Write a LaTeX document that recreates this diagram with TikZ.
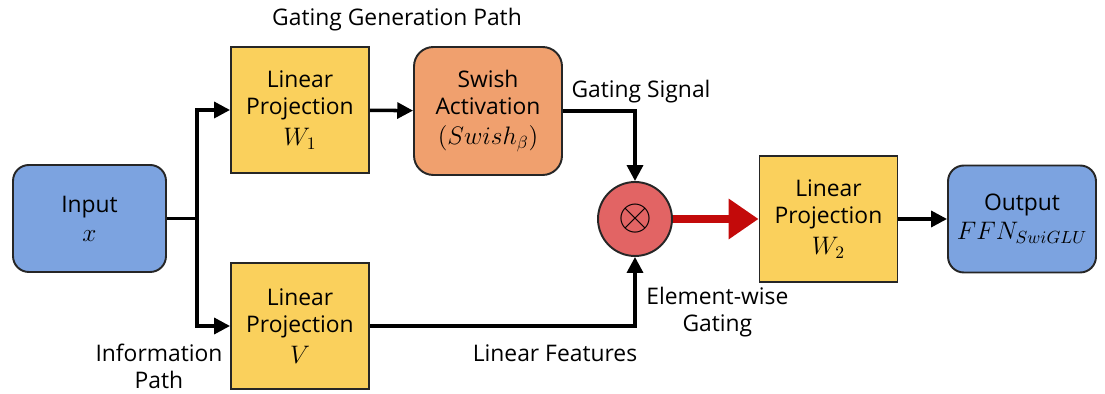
\documentclass[tikz,border=0pt]{standalone}
\usepackage{fontspec}
\setmainfont{Open Sans}
\usetikzlibrary{shapes.geometric, arrows, arrows.meta}

\definecolor{inBlue}{RGB}{124,163,224}
\definecolor{projYellow}{RGB}{250,208,92}
\definecolor{actOrange}{RGB}{240,160,110}
\definecolor{multRed}{RGB}{226,100,100}
\definecolor{gateRed}{RGB}{195,10,10}

\newcommand{\bigmath}[1]{{\fontsize{14.5}{15.4}\selectfont$#1$}}

\tikzstyle{ioBox} = [rectangle, rounded corners=9pt, minimum width=3.06cm, minimum height=2.14cm, text centered, align=center, draw=black!85, line width=1.1pt, fill=inBlue]
\tikzstyle{projBox} = [rectangle, minimum width=2.76cm, minimum height=2.52cm, text centered, align=center, draw=black!85, line width=1.1pt, fill=projYellow]
\tikzstyle{actBox} = [rectangle, rounded corners=11pt, minimum width=2.96cm, minimum height=2.56cm, text centered, align=center, draw=black!85, line width=1.1pt, fill=actOrange]
\tikzstyle{multCircle} = [circle, minimum size=1.48cm, inner sep=0pt, draw=black!85, line width=1.1pt, fill=multRed]
\tikzstyle{label} = [align=center, inner sep=0pt]
\tikzstyle{arrow} = [line width=2pt,-{Triangle[length=9pt,width=9pt]}]
\tikzstyle{redArrow} = [line width=5pt, draw=gateRed, -{Triangle[length=17pt,width=22pt]}]

\begin{document}
\begin{tikzpicture}[x=0.02cm,y=-0.02cm,font=\fontsize{13}{15.4}\selectfont]
\useasboundingbox (0,0) rectangle (1105,394);

\node (input) [ioBox] at (89.5,218.5) {Input\\[1pt]\bigmath{x}};
\node (linW1) [projBox] at (300,110) {Linear\\Projection\\[2pt]\bigmath{W_1}};
\node (swish) [actBox] at (488,111) {Swish\\Activation\\[2pt]\bigmath{(Swish_\beta)}};
\node (linV) [projBox] at (300,326) {Linear\\Projection\\[2pt]\bigmath{V}};
\node (mult) [multCircle] at (635,219) {\fontsize{30}{30}\selectfont$\otimes$};
\node (linW2) [projBox] at (828.5,219) {Linear\\Projection\\[2pt]\bigmath{W_2}};
\node (output) [ioBox, minimum width=2.96cm] at (1022,219) {Output\\[1pt]\bigmath{FFN_{SwiGLU}}};
\coordinate (split) at (197,218.5);

%labels
\node (gatePathLabel) [label] at (397,20) {Gating Generation Path};
\node (infoPathLabel) [label] at (159,366) {Information\\Path};
\node (gateSigLabel) [label] at (641,92) {Gating Signal};
\node (linFeatLabel) [label] at (555,353) {Linear Features};
\node (elemLabel) [label, anchor=west] at (646,312) {Element-wise\\Gating};

\draw [line width=2pt] (input) -- (split);
\draw [arrow] (split) |- (linW1);
\draw [arrow] (split) |- (linV);
\draw [arrow] (linW1) -- (swish);
\draw [arrow] (swish.east) -| (mult.north);
\draw [arrow] (linV.east) -| (mult.south);
\draw [redArrow] (mult) -- (linW2);
\draw [arrow] (linW2) -- (output);
\end{tikzpicture}
\end{document}
